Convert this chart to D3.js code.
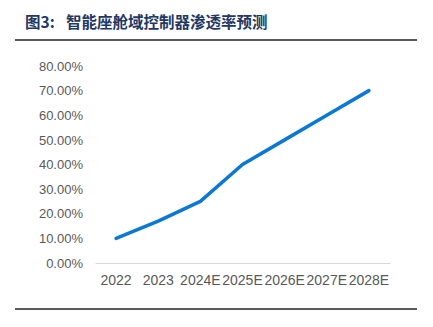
<!DOCTYPE html>
<html>
<head>
<meta charset="utf-8">
<script src="https://cdn.jsdelivr.net/npm/d3@7"></script>
<style>
    body { margin: 0; background: #fff; }
    svg { display: block; }
</style>
</head>
<body>
<div id="chart"></div>
<script>
const years = ["2022", "2023", "2024E", "2025E", "2026E", "2027E", "2028E"];
const penetration = [10, 17, 25, 40, 50, 60, 70];
const yTicks = [0, 10, 20, 30, 40, 50, 60, 70, 80];

const outerWidth = 433;
const outerHeight = 327;
const margin = {top: 66, right: 43, bottom: 64, left: 95};
const width = outerWidth - margin.left - margin.right;
const height = outerHeight - margin.top - margin.bottom;

const svg = d3.select("#chart")
    .append("svg")
    .attr("width", outerWidth)
    .attr("height", outerHeight);

// header
const title = svg.append("text")
    .attr("y", 28)
    .attr("fill", "#1f3864")
    .attr("font-family", "'Noto Sans CJK SC', sans-serif")
    .attr("font-weight", "bold")
    .attr("font-size", 15.5);
title.append("tspan").attr("x", 25).text("图3:");
title.append("tspan").attr("x", 66).text("智能座舱域控制器渗透率预测");

svg.append("line")
    .attr("x1", 15).attr("x2", 417)
    .attr("y1", 40).attr("y2", 40)
    .attr("stroke", "#222").attr("stroke-width", 1.5);

svg.append("line")
    .attr("x1", 15).attr("x2", 417)
    .attr("y1", 309).attr("y2", 309)
    .attr("stroke", "#222").attr("stroke-width", 1.5);

const plot = svg.append("g")
    .attr("transform", `translate(${margin.left}, ${margin.top})`);

const x = d3.scaleBand()
    .domain(years)
    .range([0, width]);

const y = d3.scaleLinear()
    .domain([0, 80])
    .range([height, 0]);

plot.append("g")
    .attr("transform", `translate(0, ${height})`)
    .call(d3.axisBottom(x).tickSize(0).tickPadding(12))
    .call((g) => g.select(".domain").attr("stroke", "#d9d9d9"))
    .call((g) => g.selectAll("text")
        .attr("fill", "#595959")
        .attr("font-family", "'Liberation Sans', Arial, sans-serif")
        .attr("font-size", 14));

plot.append("g")
    .call(d3.axisLeft(y).tickValues(yTicks).tickSize(0).tickPadding(12)
        .tickFormat((d) => `${d.toFixed(2)}%`))
    .call((g) => g.select(".domain").remove())
    .call((g) => g.selectAll("text")
        .attr("fill", "#595959")
        .attr("font-family", "'Liberation Sans', Arial, sans-serif")
        .attr("font-size", 13));

const line = d3.line()
    .x((d, i) => x(years[i]) + x.bandwidth() / 2)
    .y((d) => y(d));

plot.append("path")
    .datum(penetration)
    .attr("fill", "none")
    .attr("stroke", "#0a78d4")
    .attr("stroke-width", 3.5)
    .attr("stroke-linecap", "round")
    .attr("stroke-linejoin", "round")
    .attr("d", line);
</script>
</body>
</html>
